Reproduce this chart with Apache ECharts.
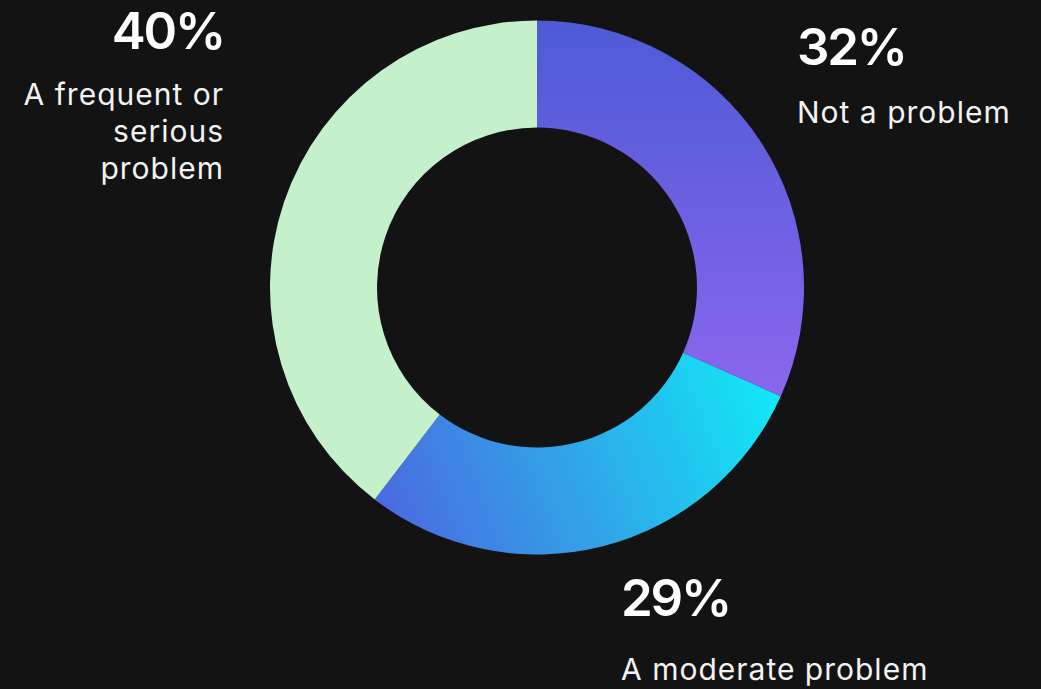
<!DOCTYPE html>
<html>
<head>
<meta charset="utf-8">
<style>
html,body{margin:0;padding:0;background:#131313;}
#c{width:1041px;height:689px;}
#c text[style*="51px"]{letter-spacing:-2.2px;}
#c text[style*="30px"]{letter-spacing:1px;}
</style>
<script src="https://cdn.jsdelivr.net/npm/echarts@6/dist/echarts.min.js"></script>
</head>
<body>
<div id="c"></div>
<script>
const categories = ['Not a problem', 'A moderate problem', 'A frequent or\nserious\nproblem'];
const values = [32, 29, 40];
const pctLabels = ['32%', '29%', '40%'];

const chart = echarts.init(document.getElementById('c'), null, {renderer: 'svg'});

const sliceStyles = [
  {color: new echarts.graphic.LinearGradient(0, 0, 0, 1, [{offset: 0, color: '#4d5ad6'}, {offset: 1, color: '#8a66ee'}])},
  {color: new echarts.graphic.LinearGradient(0, 0.6, 1, 0.4, [{offset: 0, color: '#4a6ce0'}, {offset: 0.5, color: '#2fa8e8'}, {offset: 1, color: '#13e4f6'}])},
  {color: '#c4f0cc'}
];

const labelPos = [
  {x: 797, yPct: 46, yTxt: 111, align: 'left'},
  {x: 621, yPct: 597, yTxt: 668, align: 'left'},
  {x: 224, yPct: 30, yTxt: 93, align: 'right'}
];

const graphics = [];
categories.forEach((c, i) => {
  const p = labelPos[i];
  graphics.push({
    type: 'text', x: p.x, y: p.yPct,
    style: {text: pctLabels[i], font: '600 51px Inter', fill: '#ffffff', align: p.align, verticalAlign: 'middle'}
  });
  graphics.push({
    type: 'text', x: p.x, y: p.yTxt - 18,
    style: {text: c, font: '400 30px Inter', fill: '#f2f2f2', align: p.align, verticalAlign: 'top', lineHeight: 37}
  });
});

chart.setOption({
  backgroundColor: '#131313',
  animation: false,
  series: [{
    type: 'pie',
    center: [537, 287.5],
    radius: [160, 267],
    startAngle: 90,
    clockwise: true,
    label: {show: false},
    labelLine: {show: false},
    emphasis: {disabled: true},
    itemStyle: {borderWidth: 0},
    data: categories.map((c, i) => ({name: c, value: values[i], itemStyle: sliceStyles[i]}))
  }],
  graphic: graphics
});
</script>
</body>
</html>
